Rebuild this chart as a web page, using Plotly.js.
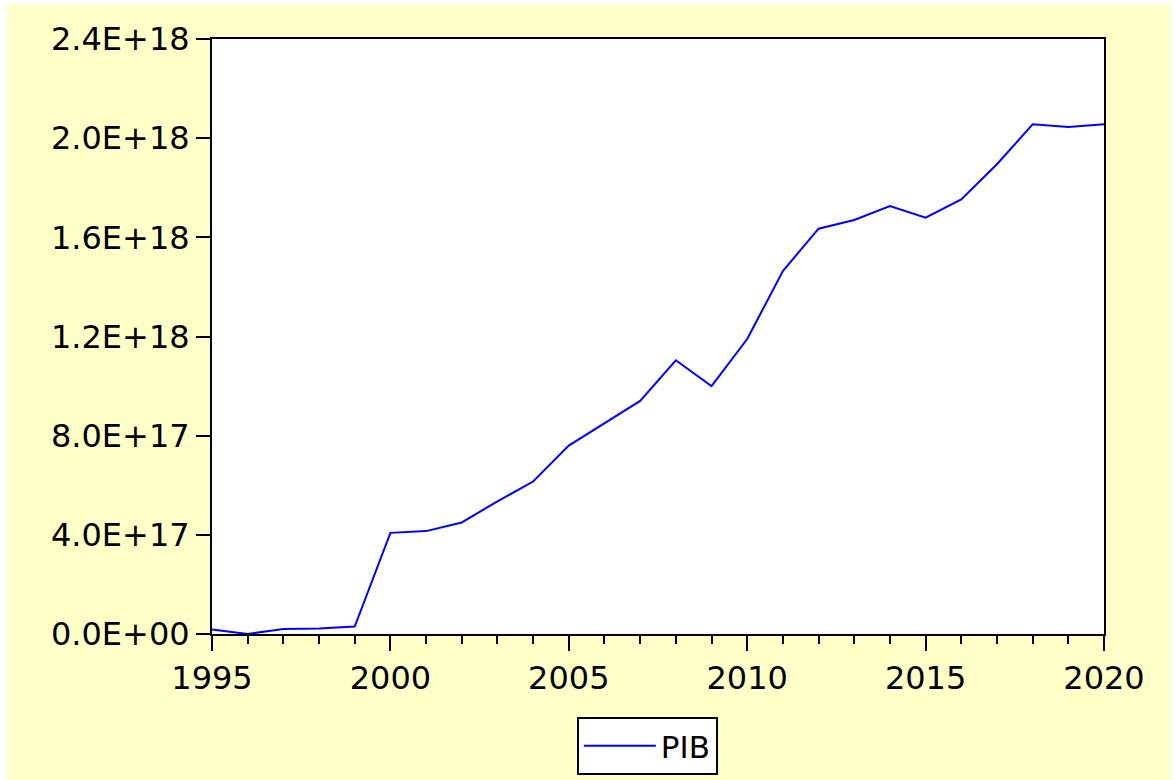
<!DOCTYPE html>
<html>
<head>
<meta charset="utf-8">
<script src="https://cdn.plot.ly/plotly-3.0.1.min.js"></script>
<style>
  html, body { margin: 0; padding: 0; background: #ffffff; }
  #chart { position: absolute; left: 7px; top: 4px; width: 1163px; height: 776px; }
</style>
</head>
<body>
<div id="chart"></div>
<script>
const years = [1995,1996,1997,1998,1999,2000,2001,2002,2003,2004,2005,2006,2007,2008,2009,2010,2011,2012,2013,2014,2015,2016,2017,2018,2019,2020];
const pib = [1.8e16,0,2.0e16,2.2e16,3.0e16,4.08e17,4.15e17,4.5e17,5.35e17,6.15e17,7.6e17,8.5e17,9.4e17,1.104e18,1.0e18,1.19e18,1.464e18,1.635e18,1.67e18,1.726e18,1.679e18,1.753e18,1.895e18,2.056e18,2.045e18,2.056e18];
const yTickVals = [0,4e17,8e17,1.2e18,1.6e18,2.0e18,2.4e18];
const yTickText = ['0.0E+00','4.0E+17','8.0E+17','1.2E+18','1.6E+18','2.0E+18','2.4E+18'];
const xTickVals = [1995,2000,2005,2010,2015,2020];
const seriesName = 'PIB';

const fontFam = 'DejaVu Sans, Arial, sans-serif';

const trace = {
  x: years, y: pib, type: 'scatter', mode: 'lines', name: seriesName,
  line: {color: '#0000ff', width: 2}, showlegend: true
};

const layout = {
  width: 1163, height: 776,
  paper_bgcolor: 'rgb(255,255,200)',
  plot_bgcolor: '#ffffff',
  margin: {l: 205, r: 66, t: 35, b: 146},
  showlegend: true,
  font: {family: fontFam, color: '#000000', size: 32},
  xaxis: {
    range: [1995, 2020], tickvals: xTickVals, ticktext: xTickVals.map(String),
    tickangle: 0,
    ticks: 'outside', ticklen: 15, tickwidth: 2, tickcolor: '#000',
    showline: true, linecolor: '#000', linewidth: 2, mirror: true,
    showgrid: false, zeroline: false,
    tickfont: {family: fontFam, size: 32, color: '#000'},
    minor: {dtick: 1, tick0: 1995, ticks: 'outside', ticklen: 8, tickwidth: 2, tickcolor: '#000', showgrid: false}
  },
  yaxis: {
    range: [0, 2.4e18], tickvals: yTickVals, ticktext: yTickText,
    ticks: 'outside', ticklen: 14, tickwidth: 2, tickcolor: '#000',
    showline: true, linecolor: '#000', linewidth: 2, mirror: true,
    showgrid: false, zeroline: false,
    tickfont: {family: fontFam, size: 32, color: '#000'}
  },
  legend: {
    xref: 'paper', yref: 'container',
    x: 0.409, xanchor: 'left', y: 0.081, yanchor: 'top',
    bgcolor: '#ffffff', bordercolor: '#000', borderwidth: 2,
    itemwidth: 72, entrywidth: 150, entrywidthmode: 'pixels',
    font: {family: fontFam, size: 31, color: '#000'}
  }
};

Plotly.newPlot('chart', [trace], layout, {displayModeBar: false, staticPlot: true});
</script>
</body>
</html>
